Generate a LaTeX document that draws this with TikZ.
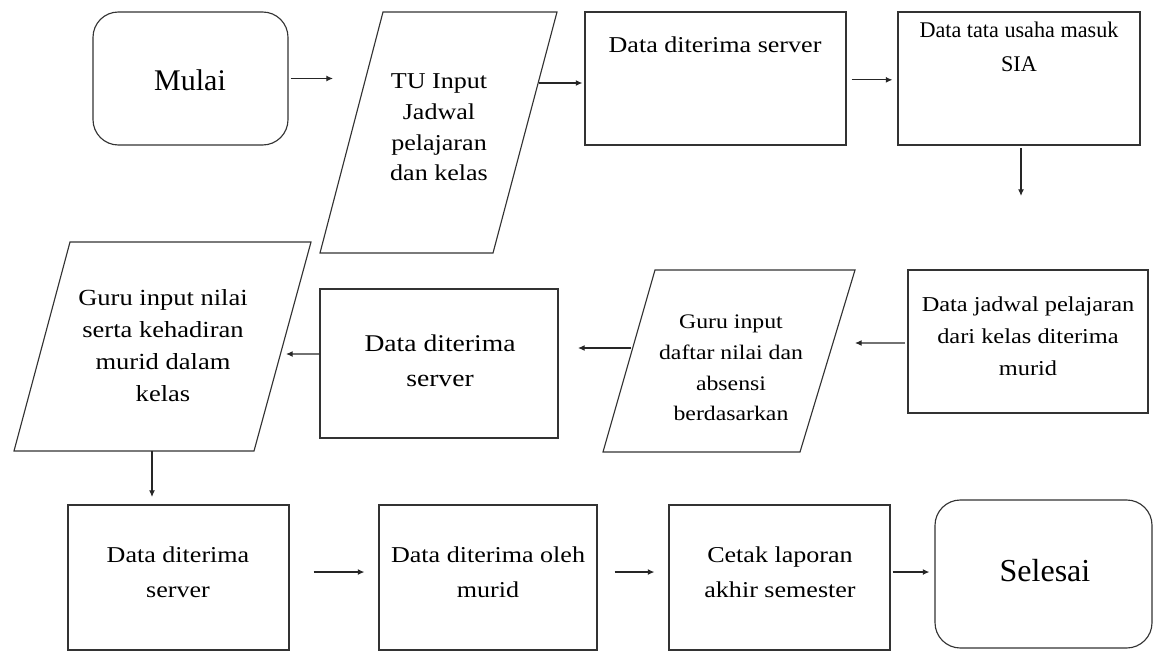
\documentclass[tikz,border=0pt]{standalone}
\usepackage{fontspec}
\setmainfont{Liberation Serif}
\newfontfamily\bodyfont{Liberation Serif}[FakeStretch=1.15]
\newfontfamily\narrowfont{Liberation Serif}[FakeStretch=0.99]
\usetikzlibrary{arrows.meta}
\begin{document}
\begin{tikzpicture}[x=0.75pt,y=-0.75pt,
  box/.style={draw=black!80, line width=0.85pt, rectangle, inner sep=0pt},
  term/.style={box, rounded corners=19pt},
  paraline/.style={draw=black!80, line width=0.85pt, line join=miter},
  txt/.style={align=center, font=\bodyfont\fontsize{17}{24}\selectfont, inner sep=0pt, text=black},
  big/.style={font=\fontsize{22.5}{27}\selectfont, inner sep=0pt, text=black},
  arr/.style={-{Latex[length=5pt,width=4.5pt]}, line width=0.9pt, draw=black!85}]
\useasboundingbox (0,0) rectangle (1155,652);

% rectangular shapes
\node[term, minimum width=146.25pt, minimum height=99.75pt] (mulai) at (190.5,78.5) {};
\node[box, minimum width=195.75pt, minimum height=99.75pt] (d1) at (715.5,78.5) {};
\node[box, minimum width=181.5pt, minimum height=99.75pt] (sia) at (1019,78.5) {};
\node[box, minimum width=180pt, minimum height=107.25pt] (jad) at (1028,341.5) {};
\node[box, minimum width=178.5pt, minimum height=111.75pt] (d2) at (439,363.5) {};
\node[box, minimum width=165.75pt, minimum height=108.75pt] (d3) at (178.5,577.5) {};
\node[box, minimum width=163.5pt, minimum height=108.75pt] (murid) at (488,577.5) {};
\node[box, minimum width=165.75pt, minimum height=108.75pt] (cetak) at (779.5,577.5) {};
\node[term, minimum width=162.75pt, minimum height=111pt] (selesai) at (1043.5,574) {};

% parallelograms (input shapes)
\coordinate (tuTL) at (383,12);  \coordinate (tuTR) at (557,12);
\coordinate (tuBR) at (493,253); \coordinate (tuBL) at (320,253);
\draw[paraline] (tuBL) -- (tuBR) -- (tuTR) -- (tuTL) -- cycle;
\coordinate (dfTL) at (655,270); \coordinate (dfTR) at (855,270);
\coordinate (dfBR) at (800,452); \coordinate (dfBL) at (603,452);
\draw[paraline] (dfBL) -- (dfBR) -- (dfTR) -- (dfTL) -- cycle;
\coordinate (guTL) at (70,242);  \coordinate (guTR) at (311,242);
\coordinate (guBR) at (254,451); \coordinate (guBL) at (14,451);
\draw[paraline] (guBL) -- (guBR) -- (guTR) -- (guTL) -- cycle;

% texts
\node[big] (tmulai) at (190,80) {Mulai};
\node[txt, font=\bodyfont\fontsize{17}{23}\selectfont] (ttu) at (439,127.5) {TU Input\\Jadwal\\pelajaran\\dan kelas};
\node[txt] (td1) at (715,45) {Data diterima server};
\node[txt, font=\narrowfont\fontsize{16.8}{26}\selectfont] (tsia) at (1019,47) {Data tata usaha masuk\\SIA};
\node[txt, font=\bodyfont\fontsize{15.9}{24}\selectfont] (tjad) at (1028,336) {Data jadwal pelajaran\\dari kelas diterima\\murid};
\node[txt, font=\bodyfont\fontsize{15.5}{23}\selectfont] (tdaftar) at (731,368) {Guru input\\daftar nilai dan\\absensi\\berdasarkan};
\node[txt, font=\bodyfont\fontsize{18}{26}\selectfont] (td2) at (440,361) {Data diterima\\server};
\node[txt, font=\bodyfont\fontsize{17.3}{24}\selectfont] (tguru) at (163,346) {Guru input nilai\\serta kehadiran\\murid dalam\\kelas};
\node[txt, font=\bodyfont\fontsize{17}{26}\selectfont] (td3) at (178,572) {Data diterima\\server};
\node[txt, font=\bodyfont\fontsize{17}{26}\selectfont] (tmurid) at (488,572) {Data diterima oleh\\murid};
\node[txt, font=\bodyfont\fontsize{17}{26}\selectfont] (tcetak) at (780,572) {Cetak laporan\\akhir semester};
\node[big, font=\fontsize{24}{28}\selectfont] (tselesai) at (1045,571) {Selesai};

% arrow ends on the input shapes and free ends
\coordinate (a1) at (333,78.5);
\coordinate (a2) at (539,83);
\coordinate (a4) at (1021,196);
\coordinate (a5) at (855,343);
\coordinate (a6s) at (631,348);
\coordinate (a6) at (578,348);
\coordinate (a7) at (286,354);
\coordinate (a8s) at (152,451);
\coordinate (a8) at (152,497);

% connectors
\draw[arr, shorten <=1.5pt] (mulai.east) -- (a1);
\draw[arr, shorten >=1.5pt] (a2) -- (a2 -| d1.west);
\draw[arr, shorten <=3.75pt, shorten >=3.75pt] ([yshift=-1pt]d1.east) -- ([yshift=-1pt]sia.west);
\draw[arr, shorten <=2pt] ([xshift=1.5pt]sia.south) -- (a4);
\draw[arr, shorten <=2pt] ([yshift=-1.1pt]jad.west) -- (a5);
\draw[arr] (a6s) -- (a6);
\draw[arr] ([yshift=7.1pt]d2.west) -- (a7);
\draw[arr] (a8s) -- (a8);
\draw[arr, shorten <=18pt, shorten >=10.5pt] ([yshift=4.1pt]d3.east) -- ([yshift=4.1pt]d3.east -| murid.west);
\draw[arr, shorten <=12.75pt, shorten >=10.5pt] ([yshift=4.1pt]murid.east) -- ([yshift=4.1pt]murid.east -| cetak.west);
\draw[arr, shorten <=1.5pt, shorten >=3.75pt] ([yshift=4.1pt]cetak.east) -- ([yshift=4.1pt]cetak.east -| selesai.west);
\end{tikzpicture}
\end{document}
